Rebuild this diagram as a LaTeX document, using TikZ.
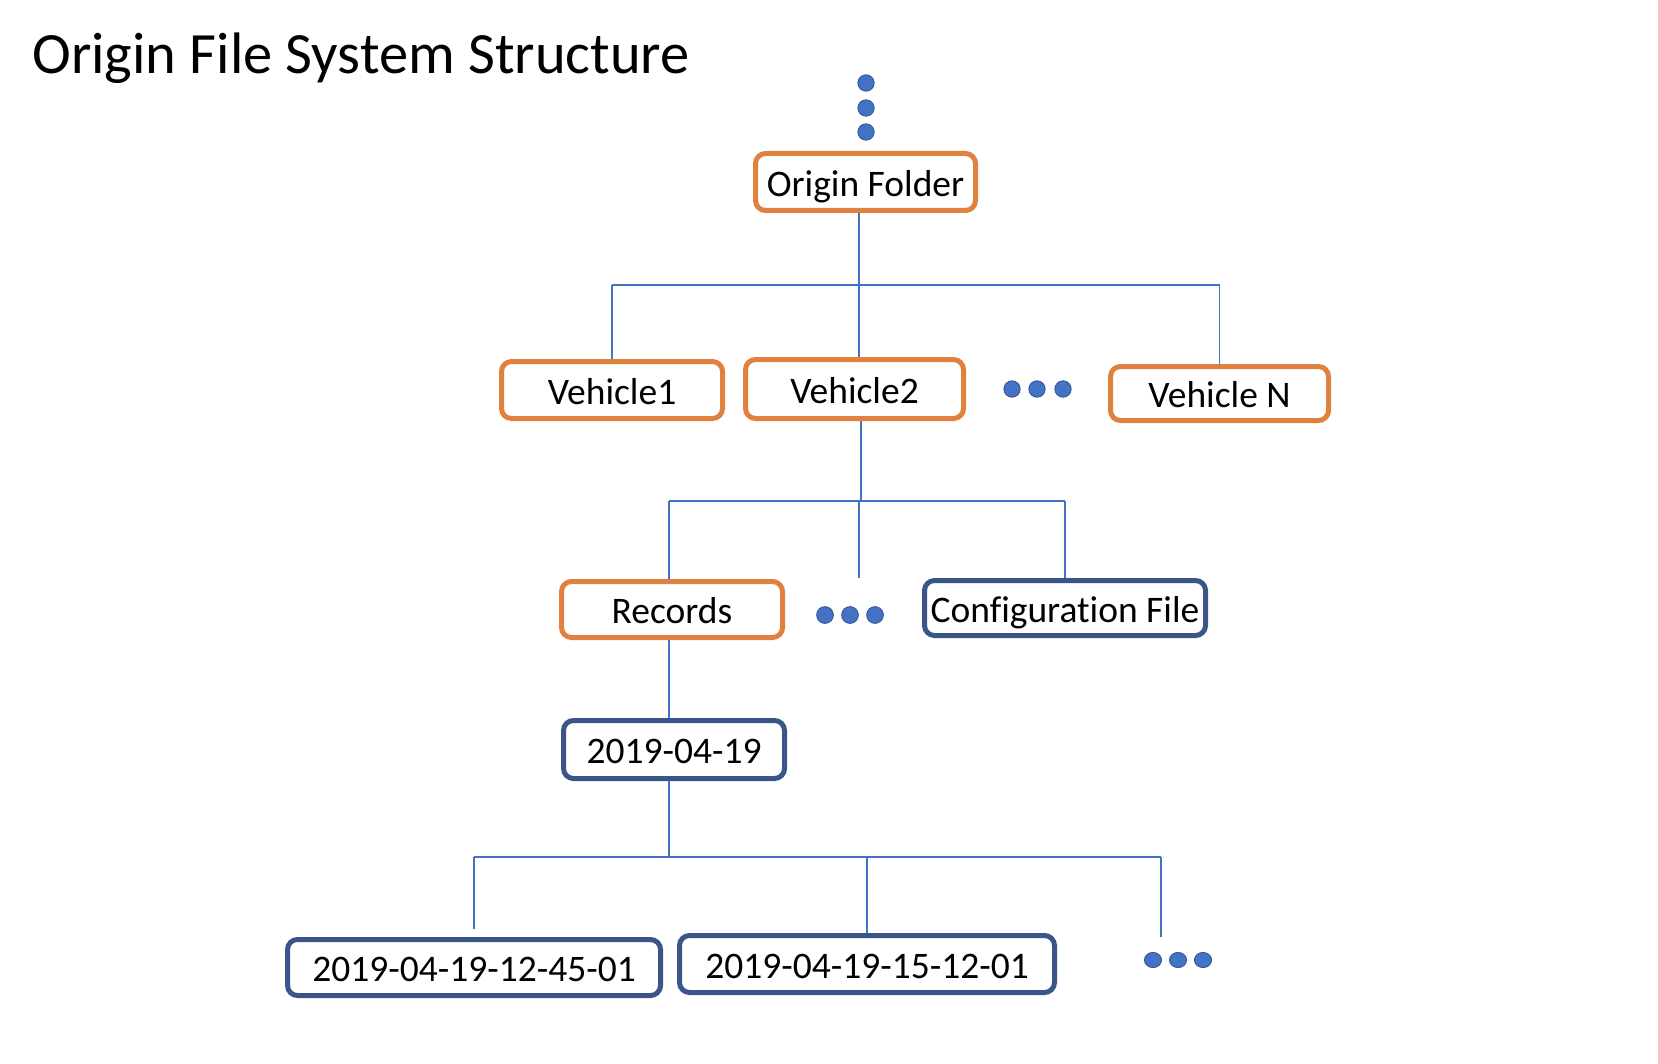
\documentclass[tikz,border=0pt]{standalone}
\usepackage{fontspec}
\setmainfont{Carlito}[Ligatures=NoCommon]
\usetikzlibrary{backgrounds}
\definecolor{borange}{HTML}{E0813F}
\definecolor{bnavy}{HTML}{3A558A}
\definecolor{lblue}{HTML}{4472C4}
\definecolor{dotedge}{HTML}{2F528F}
\begin{document}
\begin{tikzpicture}[x=0.5pt,y=-0.5pt,
  boxbase/.style={draw, rounded corners=5pt, line width=2.5pt, fill=white, inner sep=0pt,
    font=\fontsize{18.75pt}{22pt}\selectfont, text height=14.2pt, text depth=0pt},
  obox/.style={boxbase, draw=borange},
  nbox/.style={boxbase, draw=bnavy},
  conn/.style={draw=lblue, line width=0.8pt},
  dotfill/.style={fill=lblue, draw=dotedge, line width=0.4pt}]
\useasboundingbox (0,0) rectangle (1658,1064);

% title
\node[anchor=base west, inner sep=0pt, font=\fontsize{29.25pt}{34pt}\selectfont] (title) at (32,74) {Origin File System Structure};

% boxes
\node[obox, minimum width=110pt, minimum height=28.5pt] (origin) at (865.5,182) {Origin Folder};
\node[obox, minimum width=110.5pt, minimum height=28.5pt] (v1) at (612,390) {Vehicle1};
\node[obox, minimum width=109pt, minimum height=29.5pt] (v2) at (854.5,389) {Vehicle2};
\node[obox, minimum width=109pt, minimum height=27pt] (vN) at (1219.5,393.5) {Vehicle N};
\node[obox, minimum width=110.5pt, minimum height=28pt] (records) at (672,609.5) {Records};
\node[nbox, minimum width=140.5pt, minimum height=27.5pt] (config) at (1065,608) {Configurat\kern0pt ion File};
\node[nbox, minimum width=110.5pt, minimum height=29pt] (date) at (674,749.5) {2019-04-19};
\node[nbox, minimum width=186.5pt, minimum height=28pt] (d1) at (474,967.5) {2019-04-19-12-45-01};
\node[nbox, minimum width=187.5pt, minimum height=28.5pt] (d2) at (867,964) {2019-04-19-15-12-01};

% junction / free-end coordinates
\coordinate (j0) at (859,285);
\coordinate (j1) at (861,501);
\coordinate (r1) at (669,501);
\coordinate (m1) at (859,501);
\coordinate (m1end) at (859,578);
\coordinate (j2) at (669,857);
\coordinate (e1) at (474,857);
\coordinate (e2) at (867,857);
\coordinate (e3) at (1161,857);
\coordinate (e3end) at (1161,937);

% dots
\draw[dotfill] (866,83) circle (4.1pt);
\draw[dotfill] (866,108) circle (4.1pt);
\draw[dotfill] (866,132) circle (4.1pt);
\foreach \x in {1012,1037,1063} \draw[dotfill] (\x,389) circle (4.1pt);
\foreach \x in {825,850,875} \draw[dotfill] (\x,615) circle (4.2pt);
\foreach \x in {1153,1178,1203} \draw[dotfill] (\x,960) ellipse (4.3pt and 3.8pt);

\begin{pgfonlayer}{background}
\fill[white] (0,0) rectangle (1658,1064);
% level 1
\draw[conn] (j0 |- origin.south) -- (j0 |- v2.north);
\draw[conn] (v1.north |- j0) -- (vN.north |- j0);
\draw[conn] (v1.north |- j0) -- (v1.north);
\draw[conn] (vN.north |- j0) -- (vN.north);
% level 2
\draw[conn] (j1 |- v2.south) -- (j1);
\draw[conn] (r1) -- (config.north |- r1);
\draw[conn] (r1) -- (r1 |- records.north);
\draw[conn] (m1) -- (m1end);
\draw[conn] (config.north |- r1) -- (config.north);
% level 3
\draw[conn] (r1 |- records.south) -- (r1 |- date.north);
\draw[conn] (j2 |- date.south) -- (j2);
\draw[conn] (e1) -- (e3);
\draw[conn, shorten >=4pt] (e1) -- (e1 |- d1.north);
\draw[conn] (e2) -- (e2 |- d2.north);
\draw[conn] (e3) -- (e3end);
\end{pgfonlayer}
\end{tikzpicture}
\end{document}
